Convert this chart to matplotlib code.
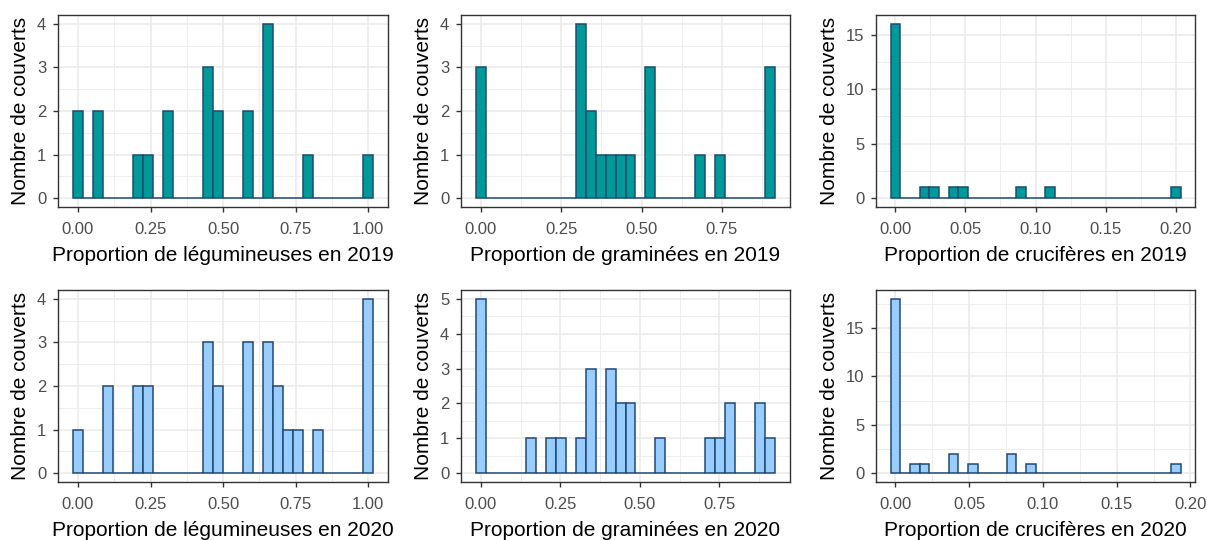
import numpy as np
import matplotlib.pyplot as plt
from matplotlib.ticker import MultipleLocator

plt.rcParams['font.family'] = ['Liberation Sans', 'DejaVu Sans']

# nombre de couverts par classe (30 classes, centrées de 0 à la valeur max)
leg_2019 = [2, 0, 2, 0, 0, 0, 1, 1, 0, 2, 0, 0, 0, 3, 2,
            0, 0, 2, 0, 4, 0, 0, 0, 1, 0, 0, 0, 0, 0, 1]
gra_2019 = [3, 0, 0, 0, 0, 0, 0, 0, 0, 0, 4, 2, 1, 1, 1,
            1, 0, 3, 0, 0, 0, 0, 1, 0, 1, 0, 0, 0, 0, 3]
cru_2019 = [16, 0, 0, 1, 1, 0, 1, 1, 0, 0, 0, 0, 0, 1, 0,
            0, 1, 0, 0, 0, 0, 0, 0, 0, 0, 0, 0, 0, 0, 1]
leg_2020 = [1, 0, 0, 2, 0, 0, 2, 2, 0, 0, 0, 0, 0, 3, 2,
            0, 0, 3, 0, 3, 2, 1, 1, 0, 1, 0, 0, 0, 0, 4]
gra_2020 = [5, 0, 0, 0, 0, 1, 0, 1, 1, 0, 1, 3, 0, 3, 2,
            2, 0, 0, 1, 0, 0, 0, 0, 1, 1, 2, 0, 0, 2, 1]
cru_2020 = [18, 0, 1, 1, 0, 0, 2, 0, 1, 0, 0, 0, 2, 0, 1,
            0, 0, 0, 0, 0, 0, 0, 0, 0, 0, 0, 0, 0, 0, 1]

# valeur maximale observée de chaque variable
max_vals = [1.0, 0.90, 0.20, 1.0, 0.91, 0.19]

xlabels = ["Proportion de légumineuses en 2019",
           "Proportion de graminées en 2019",
           "Proportion de crucifères en 2019",
           "Proportion de légumineuses en 2020",
           "Proportion de graminées en 2020",
           "Proportion de crucifères en 2020"]

x_steps = [0.25, 0.25, 0.05, 0.25, 0.25, 0.05]
y_steps = [1, 1, 5, 1, 1, 5]

teal = '#009999'
bleu_clair = '#99CCFF'
bord = '#1F4A73'

W, H = 1207, 540
fig = plt.figure(figsize=(W / 100, H / 100), dpi=100)

rows = [(15, 207), (290, 482)]
cols = [(58, 388), (461, 790), (876, 1195)]

comptes = [leg_2019, gra_2019, cru_2019, leg_2020, gra_2020, cru_2020]

for i, counts in enumerate(comptes):
    top, bottom = rows[i // 3]
    left, right = cols[i % 3]
    ax = fig.add_axes([left / W, 1 - bottom / H, (right - left) / W, (bottom - top) / H])

    xmax = max_vals[i]
    centres = np.linspace(0, xmax, 30)
    w = xmax / 29
    fill = teal if i < 3 else bleu_clair

    ax.bar(centres, counts, width=w, color=fill, edgecolor=bord, linewidth=1.1, zorder=3)

    # expansion de 5 % comme ggplot
    lo, hi = -w / 2, xmax + w / 2
    pad = (hi - lo) * 0.05
    ax.set_xlim(lo - pad, hi + pad)
    ymax = max(counts)
    ax.set_ylim(-0.05 * ymax, 1.05 * ymax)

    ax.xaxis.set_major_locator(MultipleLocator(x_steps[i]))
    ax.xaxis.set_minor_locator(MultipleLocator(x_steps[i] / 2))
    ax.yaxis.set_major_locator(MultipleLocator(y_steps[i]))
    ax.yaxis.set_minor_locator(MultipleLocator(y_steps[i] / 2))
    ax.xaxis.set_major_formatter(lambda v, p: f"{v:.2f}")

    ax.grid(which='major', color='#EBEBEB', linewidth=1.2, zorder=0)
    ax.grid(which='minor', color='#EBEBEB', linewidth=0.6, zorder=0)
    ax.set_axisbelow(True)

    for s in ax.spines.values():
        s.set_color('#333333')
        s.set_linewidth(1.0)
    ax.tick_params(which='major', length=3.5, width=1, color='#333333',
                   labelcolor='#4D4D4D', labelsize=12)
    ax.tick_params(axis='x', which='major', pad=7.5)
    ax.tick_params(axis='y', which='major', pad=5)
    ax.tick_params(which='minor', length=0)

    ax.set_xlabel(xlabels[i], fontsize=15, labelpad=6, color='black')
    ax.set_ylabel("Nombre de couverts", fontsize=15, labelpad=5, color='black')

fig.savefig("out.png", dpi=100, facecolor='white')
